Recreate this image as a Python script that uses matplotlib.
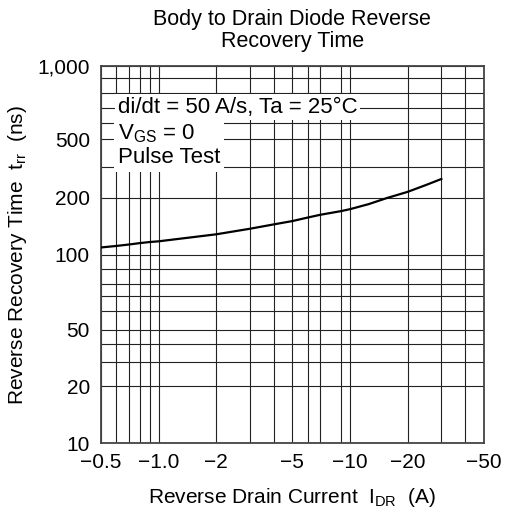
import matplotlib
matplotlib.use("Agg")
import matplotlib.pyplot as plt
from matplotlib.ticker import FixedLocator, NullFormatter
import numpy as np

plt.rcParams['font.family'] = ['Liberation Sans', 'DejaVu Sans']
plt.rcParams['font.size'] = 15

# curve
I_DR = [-0.5, -0.6, -0.7, -0.8, -0.9, -1.0, -2.0, -3.0, -4.0, -5.0, -6.0, -7.0,
        -9.0, -10.0, -12.5, -15.5, -20.0, -25.0, -30.0]
t_rr = [109, 111, 113, 115, 116.5, 117.5, 128, 137, 144.5, 150.5, 157, 162.5,
        170, 174, 185, 199, 215, 234, 251.5]

# axis ticks / labels
x_ticks = [0.5, 1.0, 2, 5, 10, 20, 50]
x_labels = ['\u22120.5', '\u22121.0', '\u22122', '\u22125', '\u221210', '\u221220', '\u221250']
y_ticks = [10, 20, 40, 100, 200, 410, 1000]
y_labels = ['10', '20', '50', '100', '200', '500', '1,000']

# grid lines as drawn on the sheet (no line at 8 A)
x_grid = [0.6, 0.7, 0.8, 0.9, 3, 4, 6, 7, 9, 30, 40]
y_grid = [27, 33.5, 50, 60, 70, 84, 290, 500, 600, 720, 865]

fig = plt.figure(figsize=(5.05, 5.15), dpi=100)
ax = fig.add_axes([0.2, 0.1398, 0.758, 0.732])

ax.plot(np.abs(I_DR), t_rr, color='black', lw=1.6, zorder=3)

ax.set_xscale('log')
ax.set_yscale('log')
ax.set_xlim(0.5, 50)
ax.set_ylim(10, 1000)

ax.xaxis.set_major_locator(FixedLocator(x_ticks))
ax.xaxis.set_major_formatter(plt.FixedFormatter(x_labels))
ax.xaxis.set_minor_locator(FixedLocator(x_grid))
ax.xaxis.set_minor_formatter(NullFormatter())
ax.yaxis.set_major_locator(FixedLocator(y_ticks))
ax.yaxis.set_major_formatter(plt.FixedFormatter(y_labels))
ax.yaxis.set_minor_locator(FixedLocator(y_grid))
ax.yaxis.set_minor_formatter(NullFormatter())

ax.tick_params(which='both', length=0)
ax.tick_params(axis='x', pad=7)
ax.tick_params(axis='y', pad=8)
ax.grid(which='both', color='#222222', lw=0.8)
ax.set_axisbelow(True)
for s in ax.spines.values():
    s.set_color('#444444')
    s.set_linewidth(1.3)

ax.text(0.044, 0.891, 'di/dt = 50 A/s, Ta = 25\u00b0C', transform=ax.transAxes,
        ha='left', va='center', zorder=4, fontsize=16,
        bbox=dict(facecolor='white', edgecolor='none', pad=2))
ax.text(0.044, 0.79, 'V$_\\mathregular{GS}$ = 0\nPulse Test', transform=ax.transAxes,
        ha='left', va='center', zorder=4, fontsize=16, linespacing=1.1,
        bbox=dict(facecolor='white', edgecolor='none', pad=3))

ax.set_title('Body to Drain Diode Reverse\nRecovery Time', fontsize=15.5, pad=14,
             linespacing=1.05)
ax.set_xlabel('Reverse Drain Current  I$_\\mathregular{DR}$  (A)', labelpad=10)
ax.set_ylabel('Reverse Recovery Time  t$_\\mathregular{rr}$  (ns)', labelpad=6)

plt.savefig('out.png', dpi=100)
